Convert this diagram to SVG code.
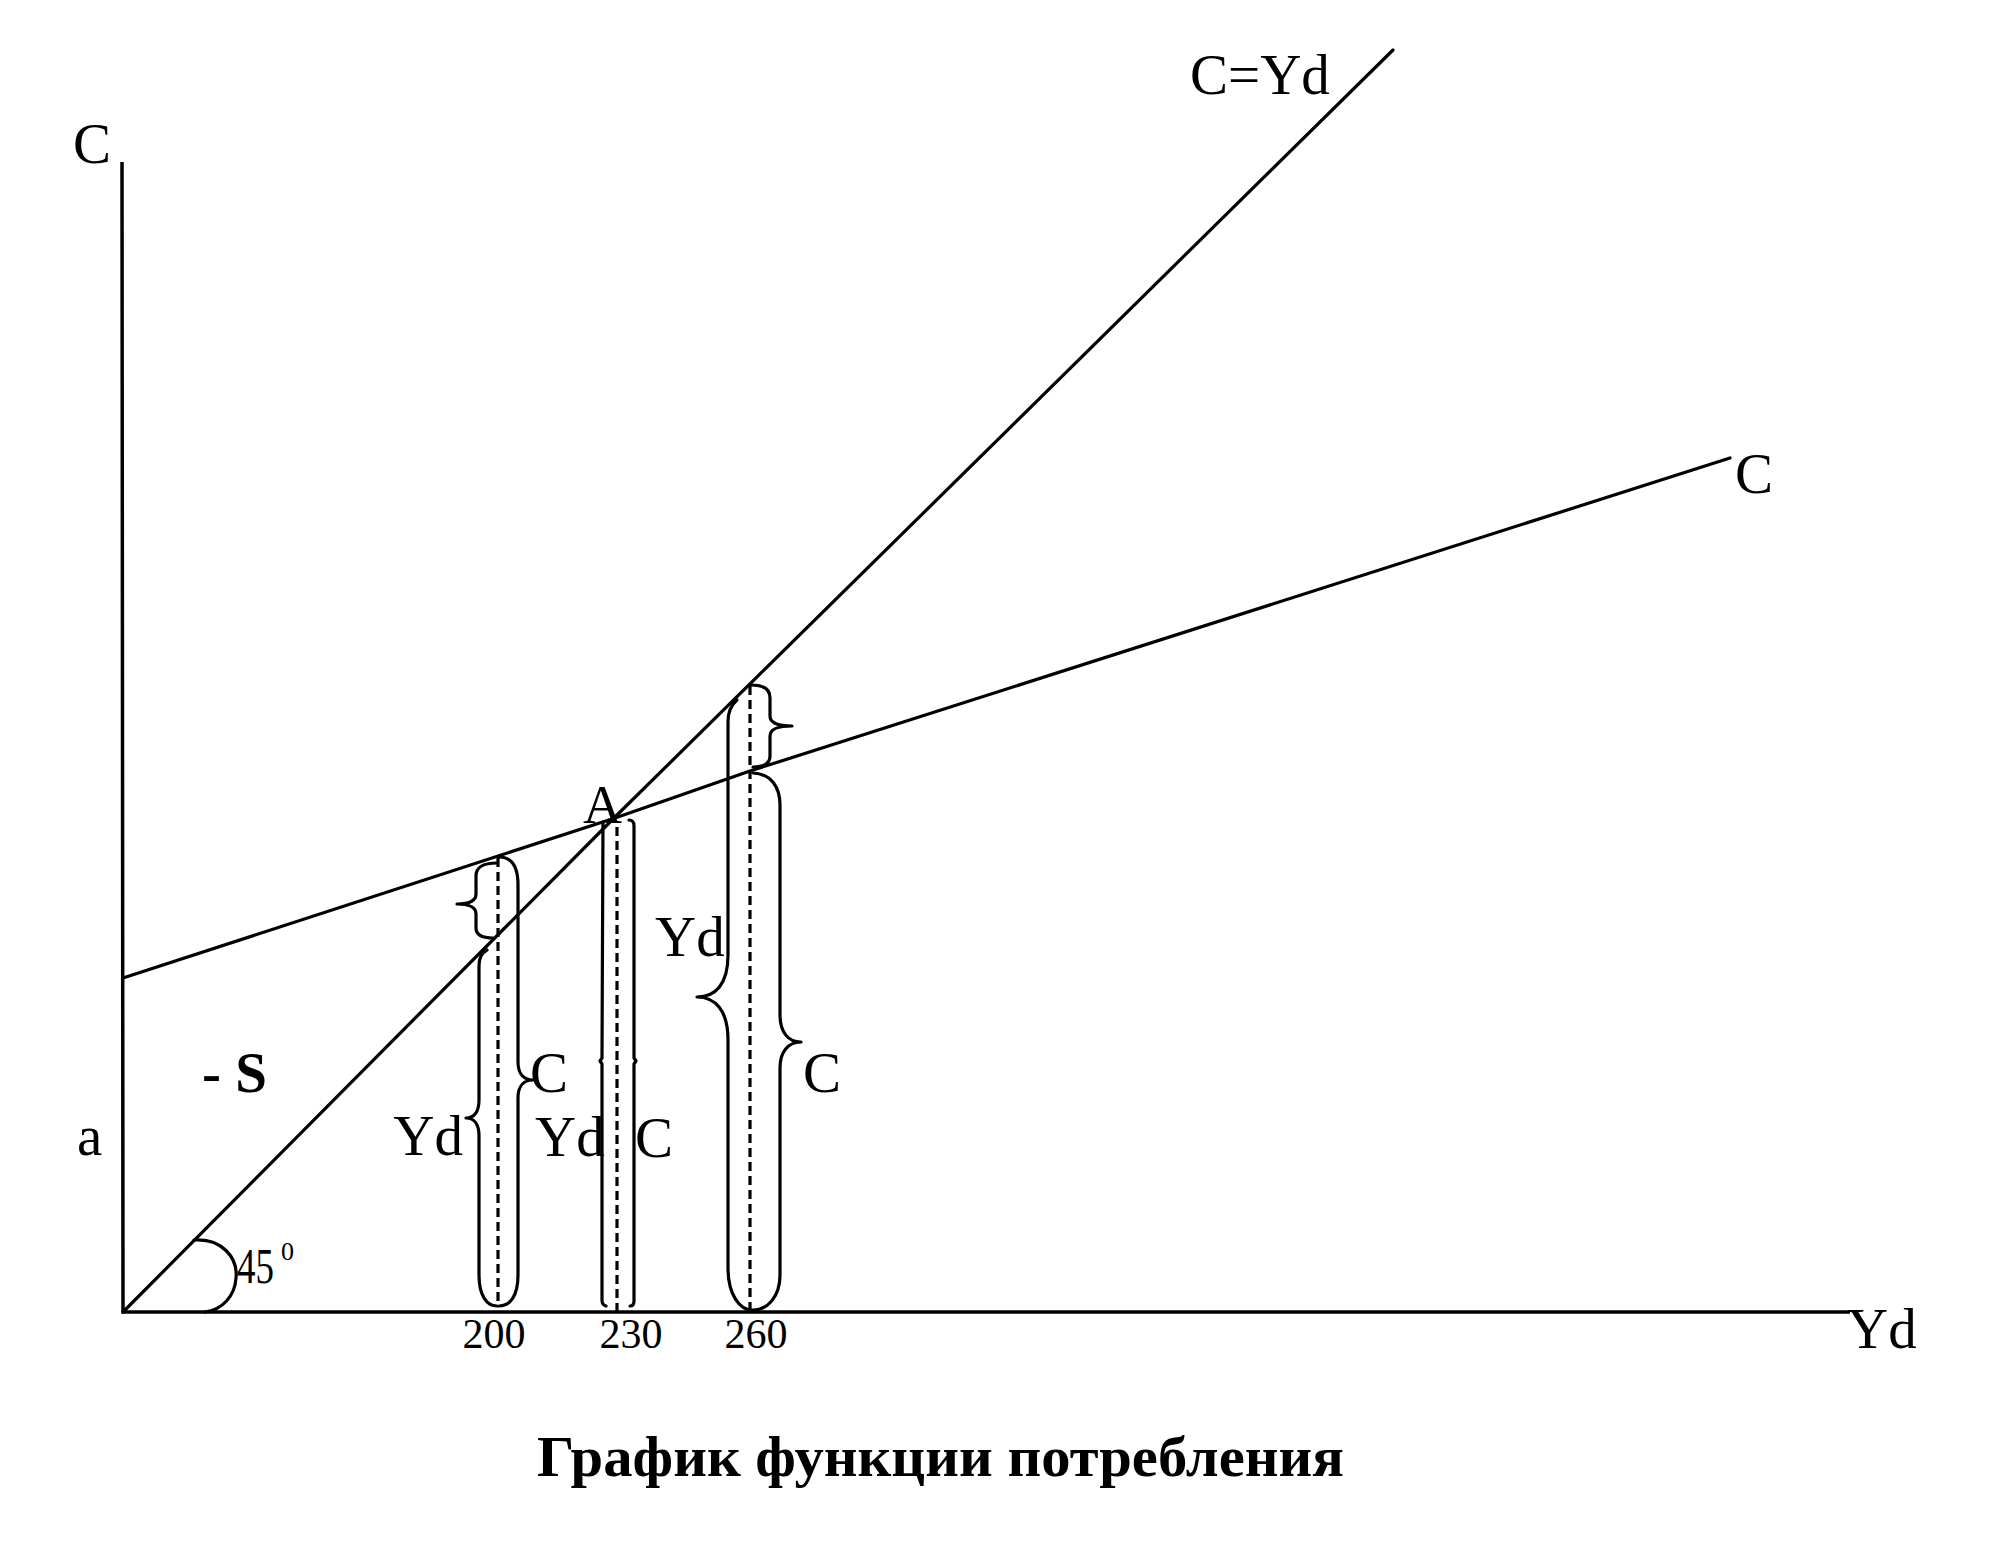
<svg xmlns="http://www.w3.org/2000/svg" width="1993" height="1549" viewBox="0 0 1993 1549">
<defs>
<style>
.ln{fill:none;stroke:#000;stroke-width:3.2;stroke-linecap:round;stroke-linejoin:round}
.ax{fill:none;stroke:#000;stroke-width:3.5}
.br{fill:none;stroke:#000;stroke-width:3.2;stroke-linecap:round;stroke-linejoin:round}
.ds{fill:none;stroke:#000;stroke-width:3.2;stroke-dasharray:9 5}
.t{font-family:"Liberation Serif","Times New Roman",serif;font-size:57px;fill:#000}
.n{font-family:"Liberation Serif","Times New Roman",serif;font-size:42px;fill:#000}
.ttl{font-family:"Liberation Serif","Times New Roman",serif;font-size:56px;font-weight:bold;fill:#000}
</style>
</defs>
<rect width="1993" height="1549" fill="#fff"/>
<g id="axes">
<path class="ax" d="M122,162 L123,1312 L1850,1312"/>
<text class="t" x="73" y="163">C</text>
<text class="t" x="1847" y="1348">Yd</text>
<text class="t" x="77" y="1155">a</text>
</g>
<g id="connectors">
<path id="line-45" class="ln" d="M123,1312 L615,817 L1393,50"/>
<path id="line-c" class="ln" d="M123,978 L615,818 L750,771 L1730,458"/>
<path id="arc-45" class="ln" d="M194,1240 C222,1238 238,1258 236,1278 C235,1296 222,1310 205,1312"/>
<path class="ds" d="M498,858 L498,1306"/>
<path class="ds" d="M617,827 L617,1316"/>
<path class="ds" d="M750,686 L750,1310"/>
</g>
<g id="label-cyd"><text class="t" x="1190" y="94">C=Yd</text></g>
<g id="label-c-line"><text class="t" x="1735" y="493">C</text></g>
<g id="label-a-point"><text class="t" x="583" y="823" style="font-size:54px">A</text></g>
<g id="label-s"><text class="t" x="202" y="1092" font-weight="bold">- S</text></g>
<g id="label-45"><text class="t" transform="translate(237,1283) scale(0.74,1)" style="font-size:50px">45</text><text class="t" x="281" y="1260" style="font-size:26px">0</text></g>
<g id="tick-200">
<path class="br" d="M497,863 C484,863 476,866 476,876 L476,894 C476,901 468,904 457,904 C468,904 476,907 476,914 L476,928 C476,935 482,938 493,938"/>
<path class="br" d="M499,857 C514,857 518,870 518,885 L518,1062 C518,1074 524,1080 533,1080 C524,1080 518,1086 518,1098 L518,1275 C518,1296 510,1306 499,1306"/>
<path class="br" d="M487,950 C481,953 479,958 479,966 L479,1100 C479,1112 474,1118 466,1118 C474,1118 479,1124 479,1136 L479,1275 C479,1296 487,1306 497,1306"/>
<text class="t" x="463" y="1155" text-anchor="end">Yd</text>
<text class="t" x="530" y="1092">C</text>
<text class="t" x="535" y="1156">Yd</text>
<text class="n" x="494" y="1348" text-anchor="middle">200</text>
</g>
<g id="tick-230">
<path class="br" d="M603,822 L602,1058 L600,1061 L602,1064 L602,1300 Q602,1305 606,1306"/>
<path class="br" d="M629,820 Q634,820 634,826 L634,1058 L636,1061 L634,1064 L634,1301 Q634,1306 630,1306"/>
<text class="t" x="635" y="1157">C</text>
<text class="n" x="631" y="1348" text-anchor="middle">230</text>
</g>
<g id="tick-260">
<path class="br" d="M751,685 C764,685 770,690 770,698 L770,716 C770,723 778,726 792,726 C778,726 770,729 770,736 L770,756 C770,763 764,767 753,767"/>
<path class="br" d="M737,700 C731,705 728,712 728,722 L728,955 C728,985 715,997 697,997 C715,997 728,1010 728,1040 L728,1268 C728,1295 740,1310 752,1310"/>
<path class="br" d="M753,773 C772,774 780,788 780,805 L780,1015 C780,1032 788,1042 801,1042 C788,1042 780,1052 780,1068 L780,1275 C780,1296 768,1310 753,1310"/>
<text class="t" x="655" y="956">Yd</text>
<text class="t" x="803" y="1092">C</text>
<text class="n" x="756" y="1348" text-anchor="middle">260</text>
</g>
<g id="title"><text class="ttl" x="537" y="1476" textLength="807" lengthAdjust="spacingAndGlyphs">График функции потребления</text></g>
</svg>
